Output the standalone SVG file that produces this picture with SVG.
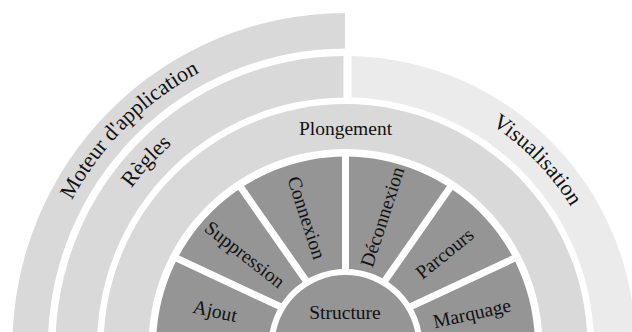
<svg xmlns="http://www.w3.org/2000/svg" width="632" height="332" viewBox="0 0 632 332">
<style>
.band{fill:#d9d9d9}
.light{fill:#ebebeb}
.sec{fill:#959595}
.t{font-family:"Liberation Serif","Times New Roman",serif;font-size:19.5px;fill:#111;text-anchor:middle}
.big{font-size:22px}
.div{stroke:#fff;stroke-width:7;fill:none}
</style>
<defs>
<path id="ann" fill-rule="evenodd" d="M156,346a189.5,189.5 0 1,1 379,0a189.5,189.5 0 1,1 -379,0ZM268.5,346a77,77 0 1,1 154,0a77,77 0 1,1 -154,0Z"/>
<clipPath id="wA"><polygon points="345.5,337 55.5,201.8 44.8,446.4"/></clipPath>
<clipPath id="wS"><polygon points="345.5,337 161.9,74.9 55.5,201.8"/></clipPath>
<clipPath id="wC"><polygon points="345.5,337 345.5,17 161.9,74.9"/></clipPath>
<clipPath id="wD"><polygon points="345.5,337 529.1,74.9 345.5,17"/></clipPath>
<clipPath id="wP"><polygon points="345.5,337 635.5,201.8 529.1,74.9"/></clipPath>
<clipPath id="wM"><polygon points="345.5,337 646.2,446.4 635.5,201.8"/></clipPath>
<path id="arcM" d="M35.5,346A310,310 0 0 1 655.5,346"/>
<path id="arcR" d="M79.5,346A266,266 0 0 1 611.5,346"/>
<path id="arcV" d="M80.5,346A265,265 0 0 1 610.5,346"/>
</defs>

<g id="moteur">
<path class="band" d="M12.5,346A333,333 0 0 1 345,13L345,48.5A297.5,297.5 0 0 0 48,346Z"/>
<text class="t big"><textPath href="#arcM" startOffset="25%">Moteur d'application</textPath></text>
</g>
<g id="regles">
<path class="band" d="M55.5,346A290,290 0 0 1 343.5,56L343.5,97.5A248.5,248.5 0 0 0 97,346Z"/>
<text class="t big"><textPath href="#arcR" startOffset="23.8%">Règles</textPath></text>
</g>
<g id="visualisation">
<path class="light" d="M351.5,56.1A290,290 0 0 1 635.5,346L594,346A248.5,248.5 0 0 0 351.5,97.6Z"/>
<text class="t big"><textPath href="#arcV" startOffset="75.5%">Visualisation</textPath></text>
</g>
<g id="plongement">
<path class="band" d="M103.5,346A242,242 0 0 1 587.5,346L542.5,346A197,197 0 0 0 148.5,346Z"/>
<text class="t" x="345.5" y="135">Plongement</text>
</g>

<g id="ajout">
<use href="#ann" class="sec" clip-path="url(#wA)"/>
<text class="t" transform="translate(215,311.7) rotate(12.5)" dy="0.3em">Ajout</text>
</g>
<g id="suppression">
<use href="#ann" class="sec" clip-path="url(#wS)"/>
<text class="t" transform="translate(244.5,255) rotate(38)" dy="0.3em">Suppression</text>
</g>
<g id="connexion">
<use href="#ann" class="sec" clip-path="url(#wC)"/>
<text class="t" transform="translate(306,218) rotate(72)" dy="0.3em">Connexion</text>
</g>
<g id="deconnexion">
<use href="#ann" class="sec" clip-path="url(#wD)"/>
<text class="t" transform="translate(383,217) rotate(-72)" dy="0.3em">Déconnexion</text>
</g>
<g id="parcours">
<use href="#ann" class="sec" clip-path="url(#wP)"/>
<text class="t" transform="translate(445,254) rotate(-39)" dy="0.3em">Parcours</text>
</g>
<g id="marquage">
<use href="#ann" class="sec" clip-path="url(#wM)"/>
<text class="t" transform="translate(472,314) rotate(-12.5)" dy="0.3em">Marquage</text>
</g>

<g id="dividers">
<line class="div" x1="345.5" y1="337" x2="173.3" y2="256.7"/>
<line class="div" x1="345.5" y1="337" x2="238.8" y2="184.6"/>
<line class="div" x1="345.5" y1="337" x2="345.5" y2="153"/>
<line class="div" x1="345.5" y1="337" x2="452.2" y2="184.6"/>
<line class="div" x1="345.5" y1="337" x2="517.7" y2="256.7"/>
</g>

<g id="structure">
<circle class="sec" cx="345.5" cy="346" r="71"/>
<text class="t" x="345" y="319">Structure</text>
</g>
</svg>
